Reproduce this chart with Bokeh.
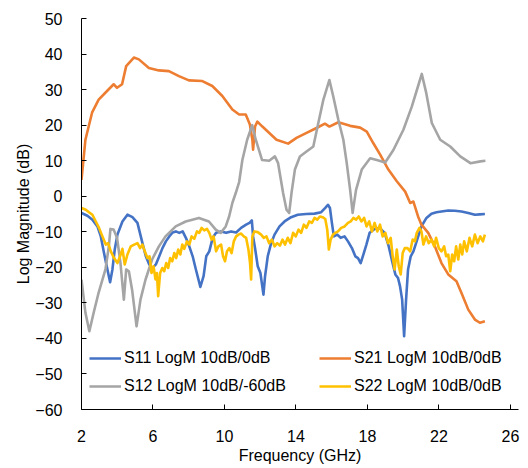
from bokeh.plotting import figure
from bokeh.models import Legend, LegendItem, FixedTicker, Range1d
from bokeh.embed import file_html
from bokeh.resources import INLINE

# ---- data (GHz, dB) ----
s11_f = [2.00, 2.33, 2.61, 2.89, 3.08, 3.26, 3.45, 3.60, 3.73, 3.86, 4.01, 4.29, 4.57, 4.85, 5.13, 5.41, 5.60, 5.79, 5.97, 6.16,
         6.35, 6.53, 6.72, 6.91, 7.10, 7.28, 7.47, 7.66, 7.84, 8.03, 8.22, 8.40, 8.65, 8.83, 8.98, 9.15, 9.34, 9.53, 9.81, 10.09,
         10.37, 10.65, 10.93, 11.21, 11.40, 11.53, 11.60, 11.71, 11.86, 12.01, 12.18, 12.27, 12.42, 12.61, 12.80, 13.08, 13.36, 13.73, 14.10, 14.57,
         15.04, 15.41, 15.64, 15.79, 15.90, 16.01, 16.12, 16.31, 16.50, 16.72, 16.91, 17.13, 17.32, 17.47, 17.62, 17.77, 17.94, 18.12, 18.40, 18.68,
         18.96, 19.19, 19.38, 19.56, 19.71, 19.82, 19.94, 20.05, 20.16, 20.27, 20.42, 20.57, 20.72, 20.87, 21.02, 21.30, 21.58, 21.86, 22.14, 22.52,
         22.89, 23.26, 23.64, 24.01, 24.29, 24.57]
s11_db = [-4.7, -5.5, -6.6, -8.5, -11.3, -16.0, -20.6, -24.2, -20.6, -15.0, -10.8, -7.1, -5.2, -5.9, -7.5, -13.2, -16.9, -19.2, -20.2, -19.2,
          -16.9, -14.6, -12.7, -11.3, -10.2, -9.9, -10.3, -9.9, -11.7, -14.1, -16.9, -20.6, -25.5, -22.5, -16.9, -15.5, -11.7, -10.3, -9.9, -10.3,
          -9.9, -10.2, -8.9, -8.0, -7.5, -6.8, -11.3, -14.6, -19.7, -21.6, -27.7, -22.5, -16.9, -13.2, -10.8, -8.5, -7.1, -5.9, -5.2, -5.0,
          -4.9, -4.5, -3.3, -2.4, -3.3, -7.5, -11.3, -10.8, -11.7, -11.3, -12.7, -14.6, -16.9, -17.4, -18.8, -16.4, -13.6, -10.3, -9.2, -8.9,
          -10.3, -14.1, -18.3, -22.0, -23.0, -25.3, -29.1, -39.4, -29.1, -20.6, -16.9, -15.5, -13.2, -10.8, -8.5, -6.1, -4.9, -4.5, -4.3, -4.0,
          -4.1, -4.3, -4.7, -5.2, -5.1, -5.0]

s21_f = [2.00, 2.22, 2.59, 2.96, 3.43, 3.80, 3.99, 4.27, 4.50, 4.93, 5.21, 5.77, 6.33, 6.89, 7.45, 8.01, 8.76, 9.32, 9.88, 10.44,
         10.82, 11.19, 11.42, 11.56, 11.60, 11.71, 11.84, 12.12, 12.91, 13.56, 14.03, 14.59, 15.15, 15.62, 15.87, 16.37, 17.03, 17.59, 17.96, 18.33,
         18.71, 19.17, 19.64, 20.11, 20.39, 20.57, 20.83, 21.02, 21.40, 21.77, 22.14, 22.52, 22.98, 23.26, 23.64, 24.01, 24.29, 24.57]
s21_db = [4.6, 15.9, 23.5, 27.2, 29.6, 31.5, 30.5, 31.5, 36.6, 39.0, 38.5, 36.1, 35.4, 35.2, 33.8, 32.6, 32.4, 31.0, 28.2, 24.4,
          23.0, 23.0, 20.2, 15.9, 13.1, 19.6, 21.0, 19.6, 15.9, 14.8, 16.4, 17.8, 19.2, 20.4, 19.6, 20.8, 19.8, 19.3, 18.2, 14.9,
          11.7, 7.5, 4.2, 1.3, -1.9, -1.5, -5.7, -8.0, -10.3, -14.1, -18.8, -22.0, -23.9, -27.2, -31.9, -34.7, -35.6, -35.2]

s12_f = [2.00, 2.22, 2.44, 2.68, 2.96, 3.34, 3.53, 3.62, 3.80, 3.99, 4.18, 4.37, 4.50, 4.65, 4.83, 5.08, 5.30, 5.58, 5.95, 6.33,
         6.70, 7.27, 7.83, 8.57, 9.13, 9.51, 9.79, 10.07, 10.26, 10.44, 10.63, 10.82, 11.00, 11.27, 11.55, 11.75, 12.10, 12.50, 12.82, 13.00,
         13.28, 13.47, 13.62, 13.75, 13.94, 14.22, 14.59, 14.97, 15.25, 15.53, 15.87, 16.09, 16.37, 16.65, 16.84, 17.03, 17.17, 17.36, 17.68, 18.15,
         18.52, 18.99, 19.45, 20.01, 20.48, 20.82, 21.04, 21.29, 21.60, 22.07, 22.63, 23.19, 23.76, 24.32, 24.60]
s12_db = [-23.5, -32.8, -38.0, -32.8, -27.1, -20.6, -14.1, -9.2, -9.4, -11.7, -18.8, -29.1, -20.6, -21.1, -26.3, -36.6, -29.1, -23.5, -17.8, -14.1,
          -11.3, -8.5, -7.1, -6.1, -7.1, -9.4, -10.3, -8.5, -5.7, -1.9, 0.9, 4.0, 10.2, 15.9, 20.0, 15.9, 10.2, 10.0, 11.2, 9.3,
          0.9, -3.8, -4.7, 0.9, 7.5, 11.2, 12.6, 14.0, 20.6, 27.1, 32.7, 28.0, 21.5, 15.9, 9.3, 1.8, -4.7, 1.8, 7.5, 10.7,
          10.2, 9.5, 13.0, 18.7, 25.2, 30.8, 34.4, 29.0, 20.6, 15.9, 14.0, 11.2, 9.3, 9.8, 10.0]

s22_f = [2.00, 2.24, 2.42, 2.61, 2.80, 2.98, 3.17, 3.36, 3.49, 3.64, 3.82, 4.01, 4.16, 4.29, 4.42, 4.57, 4.76, 4.95, 5.13, 5.28,
         5.41, 5.54, 5.69, 5.81, 5.92, 6.03, 6.14, 6.22, 6.29, 6.40, 6.52, 6.63, 6.74, 6.85, 6.96, 7.08, 7.19, 7.30, 7.41, 7.53,
         7.64, 7.75, 7.90, 8.03, 8.16, 8.31, 8.46, 8.59, 8.72, 8.87, 9.02, 9.15, 9.28, 9.39, 9.53, 9.66, 9.81, 9.92, 10.03, 10.14,
         10.27, 10.40, 10.52, 10.65, 10.78, 10.93, 11.08, 11.21, 11.34, 11.43, 11.49, 11.56, 11.67, 11.86, 12.05, 12.20, 12.35, 12.50, 12.65, 12.80,
         12.95, 13.10, 13.25, 13.39, 13.54, 13.69, 13.84, 13.99, 14.14, 14.29, 14.44, 14.59, 14.74, 14.89, 15.04, 15.19, 15.34, 15.49, 15.64, 15.75,
         15.84, 15.94, 16.07, 16.20, 16.35, 16.53, 16.72, 16.91, 17.06, 17.21, 17.36, 17.51, 17.66, 17.81, 17.95, 18.10, 18.25, 18.40, 18.55, 18.70,
         18.85, 19.00, 19.15, 19.30, 19.41, 19.52, 19.64, 19.75, 19.86, 19.97, 20.09, 20.24, 20.39, 20.53, 20.65, 20.76, 20.91, 21.02, 21.13, 21.28,
         21.43, 21.58, 21.73, 21.84, 21.99, 22.14, 22.29, 22.40, 22.52, 22.63, 22.74, 22.85, 22.96, 23.08, 23.19, 23.30, 23.41, 23.56, 23.71, 23.86,
         24.01, 24.16, 24.31, 24.46, 24.57]
s22_db = [-3.3, -3.8, -4.5, -5.2, -7.1, -8.9, -11.3, -13.6, -13.2, -15.5, -17.4, -18.8, -16.9, -14.8, -19.2, -16.4, -14.1, -13.6, -13.2, -14.6,
          -13.6, -15.5, -17.4, -16.9, -21.6, -19.7, -23.4, -21.6, -28.1, -21.6, -20.2, -21.1, -18.8, -20.2, -17.4, -18.3, -16.0, -17.4, -15.0, -16.4,
          -13.6, -14.8, -12.7, -13.6, -11.3, -12.0, -9.9, -10.3, -8.9, -9.6, -9.2, -10.3, -12.2, -11.3, -15.5, -14.1, -13.6, -16.9, -18.3, -15.5,
          -14.6, -16.0, -12.7, -11.3, -10.8, -10.5, -11.3, -11.7, -15.0, -18.8, -23.4, -11.3, -9.9, -10.1, -10.8, -11.7, -11.3, -13.2, -12.2, -14.1,
          -13.2, -13.9, -12.2, -13.6, -11.7, -13.2, -10.3, -11.3, -9.4, -10.3, -8.0, -8.9, -7.1, -7.5, -6.1, -6.6, -5.7, -5.9, -6.4, -9.4,
          -15.0, -12.2, -10.8, -10.3, -9.9, -8.9, -8.5, -7.5, -7.1, -6.1, -6.6, -5.7, -7.1, -6.1, -8.5, -7.1, -9.9, -7.5, -9.9, -8.0,
          -11.3, -10.3, -13.2, -11.7, -16.9, -20.6, -15.0, -19.7, -22.0, -16.0, -14.6, -14.6, -15.5, -12.2, -12.7, -10.3, -8.9, -9.9, -13.6, -11.3,
          -13.2, -12.2, -14.1, -11.7, -14.6, -15.5, -14.1, -16.9, -16.4, -21.1, -16.4, -18.3, -14.1, -17.8, -13.6, -16.4, -12.7, -15.5, -11.7, -14.1,
          -10.8, -13.2, -11.3, -12.7, -10.8]

series_names = ["S11 LogM 10dB/0dB", "S21 LogM 10dB/0dB", "S12 LogM 10dB/-60dB", "S22 LogM 10dB/0dB"]
series_colors = ["#4472C4", "#ED7D31", "#A5A5A5", "#FFC000"]
x_ticks = [2, 6, 10, 14, 18, 22, 26]
y_ticks = [-60, -50, -40, -30, -20, -10, 0, 10, 20, 30, 40, 50]

FONT = "Liberation Sans"

p = figure(width=522, height=466, output_backend="svg", toolbar_location=None,
           x_range=Range1d(2, 26.45), y_range=Range1d(-60, 50),
           min_border_left=81, min_border_right=4, min_border_top=18, min_border_bottom=56)
p.outline_line_color = None
p.xgrid.visible = False
p.ygrid.visible = False
p.background_fill_color = "white"
p.border_fill_color = "white"

data = [(s11_f, s11_db), (s21_f, s21_db), (s12_f, s12_db), (s22_f, s22_db)]
renderers = []
for (f, db), c in zip(data, series_colors):
    r = p.line(f, db, line_color=c, line_width=2.6, line_join="round")
    renderers.append(r)

for ax, ticks in ((p.xaxis[0], x_ticks), (p.yaxis[0], y_ticks)):
    ax.ticker = FixedTicker(ticks=ticks)
    ax.minor_tick_line_color = None
    ax.major_tick_in = 5
    ax.major_tick_out = 0
    ax.axis_line_color = "black"
    ax.major_tick_line_color = "black"
    ax.major_label_text_font = FONT
    ax.major_label_text_font_size = "16px"
    ax.major_label_text_color = "black"
    ax.axis_label_text_font = FONT
    ax.axis_label_text_font_size = "16px"
    ax.axis_label_text_font_style = "normal"
    ax.axis_label_text_color = "black"

p.xaxis.axis_label = "Frequency (GHz)"
p.yaxis.axis_label = "Log Magnitude (dB)"
p.yaxis.major_label_standoff = 19
p.yaxis.axis_label_standoff = 0
p.xaxis.major_label_standoff = 20
p.xaxis.axis_label_standoff = 2

items = [LegendItem(label=series_names[0], renderers=[renderers[0]]),
         LegendItem(label=series_names[2], renderers=[renderers[2]]),
         LegendItem(label=series_names[1], renderers=[renderers[1]]),
         LegendItem(label=series_names[3], renderers=[renderers[3]])]
legend = Legend(items=items, location=(8, 13), ncols=2,
                glyph_width=32, glyph_height=20, label_height=20, label_width=187,
                label_standoff=3, spacing=8, padding=0, margin=0,
                border_line_color=None, background_fill_alpha=0,
                label_text_font=FONT, label_text_font_size="16px", label_text_color="black")
p.add_layout(legend, "center")

open("out.html", "w").write(file_html(p, INLINE))
